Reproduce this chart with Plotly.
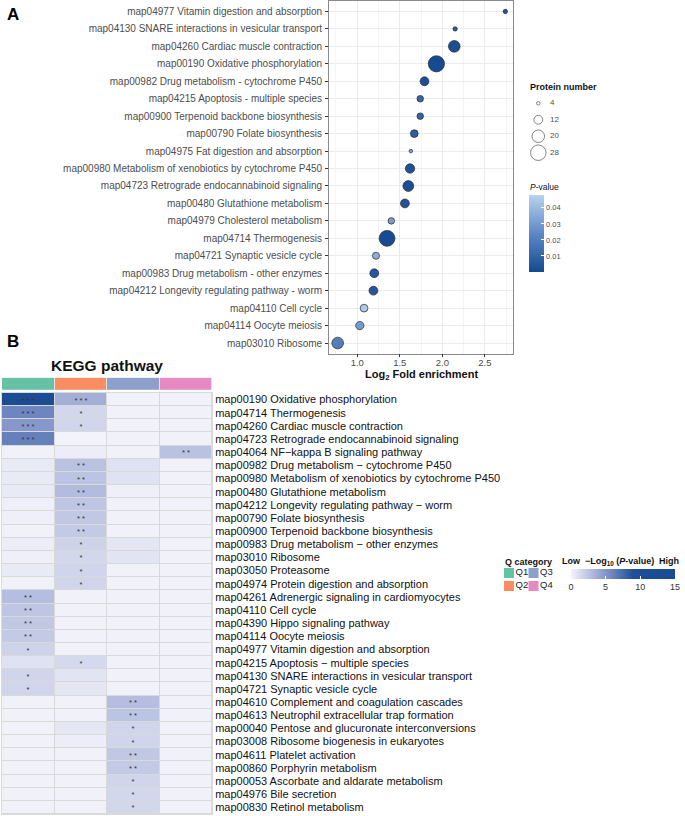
import numpy as np
import plotly.graph_objects as go

W, H = 685, 816
FONT = "Liberation Sans, Arial, Helvetica, sans-serif"

def fx(p):
    return p / W

def fy(p):
    return 1 - p / H

# ---------------- Panel A data ----------------
pathways_a = [
    "map04977 Vitamin digestion and absorption",
    "map04130 SNARE interactions in vesicular transport",
    "map04260 Cardiac muscle contraction",
    "map00190 Oxidative phosphorylation",
    "map00982 Drug metabolism - cytochrome P450",
    "map04215 Apoptosis - multiple species",
    "map00900 Terpenoid backbone biosynthesis",
    "map00790 Folate biosynthesis",
    "map04975 Fat digestion and absorption",
    "map00980 Metabolism of xenobiotics by cytochrome P450",
    "map04723 Retrograde endocannabinoid signaling",
    "map00480 Glutathione metabolism",
    "map04979 Cholesterol metabolism",
    "map04714 Thermogenesis",
    "map04721 Synaptic vesicle cycle",
    "map00983 Drug metabolism - other enzymes",
    "map04212 Longevity regulating pathway - worm",
    "map04110 Cell cycle",
    "map04114 Oocyte meiosis",
    "map03010 Ribosome",
]
fold_a = [2.74, 2.15, 2.14, 1.93, 1.79, 1.74, 1.74, 1.67, 1.63, 1.62,
          1.60, 1.56, 1.40, 1.35, 1.22, 1.20, 1.19, 1.08, 1.03, 0.77]
count_a = [5, 5, 18, 30, 12, 8, 8, 10, 4, 13,
           16, 12, 8, 29, 9, 12, 12, 10, 11, 18]
pval_a = [0.004, 0.007, 0.002, 0.0002, 0.002, 0.011, 0.010, 0.008, 0.032, 0.003,
          0.002, 0.004, 0.031, 0.0005, 0.036, 0.005, 0.005, 0.045, 0.030, 0.020]
size_legend = [4, 12, 20, 28]
pval_ticks = [0.01, 0.02, 0.03, 0.04]

# ---------------- Panel B data ----------------
pathways_b = [
    "map00190 Oxidative phosphorylation",
    "map04714 Thermogenesis",
    "map04260 Cardiac muscle contraction",
    "map04723 Retrograde endocannabinoid signaling",
    "map04064 NF\u2212kappa B signaling pathway",
    "map00982 Drug metabolism \u2212 cytochrome P450",
    "map00980 Metabolism of xenobiotics by cytochrome P450",
    "map00480 Glutathione metabolism",
    "map04212 Longevity regulating pathway \u2212 worm",
    "map00790 Folate biosynthesis",
    "map00900 Terpenoid backbone biosynthesis",
    "map00983 Drug metabolism \u2212 other enzymes",
    "map03010 Ribosome",
    "map03050 Proteasome",
    "map04974 Protein digestion and absorption",
    "map04261 Adrenergic signaling in cardiomyocytes",
    "map04110 Cell cycle",
    "map04390 Hippo signaling pathway",
    "map04114 Oocyte meiosis",
    "map04977 Vitamin digestion and absorption",
    "map04215 Apoptosis \u2212 multiple species",
    "map04130 SNARE interactions in vesicular transport",
    "map04721 Synaptic vesicle cycle",
    "map04610 Complement and coagulation cascades",
    "map04613 Neutrophil extracellular trap formation",
    "map00040 Pentose and glucuronate interconversions",
    "map03008 Ribosome biogenesis in eukaryotes",
    "map04611 Platelet activation",
    "map00860 Porphyrin metabolism",
    "map00053 Ascorbate and aldarate metabolism",
    "map04976 Bile secretion",
    "map00830 Retinol metabolism",
]
q_categories = ["Q1", "Q2", "Q3", "Q4"]
q_colors = ["#66C2A5", "#FC8D62", "#8DA0CB", "#E78AC3"]

# -log10(P-value) per Q category
q1_logp = [13.0, 5.9, 4.9, 6.2, 0.1, 0.5, 0.5, 0.5, 0.2, 0.2, 0.1, 0.3, 0.2, 0.5, 0.1, 2.8,
           2.4, 2.3, 2.2, 1.7, 0.9, 1.6, 1.6, 0.1, 0.1, 0.1, 0.1, 0.1, 0.1, 0.1, 0.1, 0.1]
q2_logp = [3.6, 1.5, 1.6, 0.0, 0.3, 2.6, 2.5, 2.9, 2.4, 2.3, 2.2, 1.7, 1.5, 1.6, 1.6, 0.1,
           0.1, 0.1, 0.1, 0.1, 1.4, 0.8, 0.7, 0.1, 0.1, 0.7, 0.3, 0.1, 0.1, 0.1, 0.1, 0.1]
q3_logp = [0.1, 0.1, 0.1, 0.1, 0.1, 0.9, 0.9, 0.2, 0.1, 0.1, 0.1, 0.7, 0.8, 0.1, 0.1, 0.1,
           0.1, 0.1, 0.1, 0.1, 0.1, 0.1, 0.1, 2.8, 2.5, 1.6, 1.6, 2.3, 2.2, 1.6, 1.5, 1.5]
q4_logp = [0.1, 0.1, 0.1, 0.1, 2.6, 0.1, 0.1, 0.1, 0.1, 0.1, 0.1, 0.1, 0.1, 0.1, 0.1, 0.1,
           0.1, 0.1, 0.1, 0.1, 0.1, 0.1, 0.1, 0.1, 0.1, 0.1, 0.1, 0.1, 0.1, 0.1, 0.1, 0.1]
# number of significance stars per Q category
q1_stars = [3, 3, 3, 3, 0, 0, 0, 0, 0, 0, 0, 0, 0, 0, 0, 2,
            2, 2, 2, 1, 0, 1, 1, 0, 0, 0, 0, 0, 0, 0, 0, 0]
q2_stars = [3, 1, 1, 0, 0, 2, 2, 2, 2, 2, 2, 1, 1, 1, 1, 0,
            0, 0, 0, 0, 1, 0, 0, 0, 0, 0, 0, 0, 0, 0, 0, 0]
q3_stars = [0, 0, 0, 0, 0, 0, 0, 0, 0, 0, 0, 0, 0, 0, 0, 0,
            0, 0, 0, 0, 0, 0, 0, 2, 2, 1, 1, 2, 2, 1, 1, 1]
q4_stars = [0, 0, 0, 0, 2, 0, 0, 0, 0, 0, 0, 0, 0, 0, 0, 0,
            0, 0, 0, 0, 0, 0, 0, 0, 0, 0, 0, 0, 0, 0, 0, 0]
logp_ticks = [0, 5, 10, 15]

# ---------------- build figure ----------------
def diam(n):
    return 3.5 + 3.65 * (np.sqrt(np.asarray(n, dtype=float)) - 2)

fig = go.Figure()

# Panel A bubbles
fig.add_trace(go.Scatter(
    x=fold_a, y=pathways_a, mode="markers",
    marker=dict(size=diam(count_a), color=pval_a, coloraxis="coloraxis",
                line=dict(color="#2a2a2a", width=0.7), opacity=1),
    xaxis="x", yaxis="y", showlegend=False, hoverinfo="skip"))

# Size legend
fig.add_trace(go.Scatter(
    x=[0] * len(size_legend), y=list(range(len(size_legend))), mode="markers",
    marker=dict(size=diam(size_legend), color="white", line=dict(color="#222", width=0.8)),
    xaxis="x3", yaxis="y3", showlegend=False, hoverinfo="skip", cliponaxis=False))
fig.add_trace(go.Scatter(
    x=[1] * len(size_legend), y=list(range(len(size_legend))), mode="text",
    text=[str(s) for s in size_legend], textposition="middle right",
    textfont=dict(size=8, color="#4D4D4D", family=FONT),
    xaxis="x3", yaxis="y3", showlegend=False, hoverinfo="skip", cliponaxis=False))

# Panel B heatmap
z = np.array([q1_logp, q2_logp, q3_logp, q4_logp]).T
stars = np.array([q1_stars, q2_stars, q3_stars, q4_stars]).T
star_text = [[" ".join(["*"] * int(s)) for s in row] for row in stars]
fig.add_trace(go.Heatmap(
    z=z, x=q_categories, y=pathways_b, text=star_text, texttemplate="%{text}",
    textfont=dict(size=7.5, color="#333333", family=FONT),
    coloraxis="coloraxis2", xgap=1, ygap=1, xaxis="x4", yaxis="y4", hoverinfo="skip"))

# header colour bar
disc = [[0, q_colors[0]], [1 / 6, q_colors[0]], [1 / 6, q_colors[1]], [0.5, q_colors[1]],
        [0.5, q_colors[2]], [5 / 6, q_colors[2]], [5 / 6, q_colors[3]], [1, q_colors[3]]]
fig.add_trace(go.Heatmap(
    z=[list(range(len(q_categories)))], x=q_categories, y=["Q"], colorscale=disc,
    zmin=0, zmax=3, showscale=False, xgap=1, xaxis="x5", yaxis="y5", hoverinfo="skip"))

# Q category legend (squares at column 0/1, labels just right of them)
leg_col = [0, 0, 1, 1]
leg_row = [0, 1, 0, 1]
fig.add_trace(go.Scatter(
    x=leg_col, y=leg_row, mode="markers",
    marker=dict(symbol="square", size=10, color=q_colors, line=dict(width=0)),
    xaxis="x6", yaxis="y6", showlegend=False, hoverinfo="skip", cliponaxis=False))
fig.add_trace(go.Scatter(
    x=[c + 0.27 for c in leg_col], y=leg_row, mode="text",
    text=q_categories, textposition="middle right",
    textfont=dict(size=9.5, color="#222", family=FONT),
    xaxis="x6", yaxis="y6", showlegend=False, hoverinfo="skip", cliponaxis=False))

# ---------------- layout ----------------
A_x0, A_x1, A_y0, A_y1 = 329, 513, 1, 353.5
B_x0, B_x1, B_y0, B_y1 = 2, 212, 393, 814
LEG_DX = 24.5  # px between legend columns

hidden = dict(visible=False, showgrid=False, zeroline=False, fixedrange=True)

fig.update_layout(
    width=W, height=H, margin=dict(l=0, r=0, t=0, b=0),
    paper_bgcolor="white", plot_bgcolor="white",
    font=dict(family=FONT, color="#222"),
    showlegend=False,
    xaxis=dict(domain=[fx(A_x0), fx(A_x1)], anchor="y", range=[0.668, 2.83],
               tickvals=[1.0, 1.5, 2.0, 2.5], ticktext=["1.0", "1.5", "2.0", "2.5"],
               ticks="outside", ticklen=3, tickcolor="#333", tickwidth=0.8,
               tickfont=dict(size=9.5, color="#4D4D4D"), ticklabelstandoff=-3,
               showgrid=True, gridcolor="#EBEBEB", gridwidth=1,
               minor=dict(dtick=0.25, tick0=0.75, showgrid=True, gridcolor="#F4F4F4", gridwidth=0.6),
               zeroline=False, showline=True, mirror=True, linecolor="#8A8A8A", linewidth=0.8),
    yaxis=dict(domain=[fy(A_y1), fy(A_y0)], anchor="x", type="category",
               categoryorder="array", categoryarray=pathways_a,
               range=[len(pathways_a) - 0.4, -0.6],
               ticks="outside", ticklen=3, tickcolor="#333", tickwidth=0.8,
               tickfont=dict(size=10, color="#4D4D4D"), ticklabelstandoff=1,
               showgrid=True, gridcolor="#EBEBEB", gridwidth=1,
               zeroline=False, showline=True, mirror=True, linecolor="#8A8A8A", linewidth=0.8),
    xaxis3=dict(domain=[fx(538.3), fx(550)], anchor="y3", range=[0, 1], **hidden),
    yaxis3=dict(domain=[fy(152.7), fy(103.3)], anchor="x3", range=[3, 0], **hidden),
    xaxis4=dict(domain=[fx(B_x0), fx(B_x1)], anchor="y4", type="category",
                categoryorder="array", categoryarray=q_categories,
                showticklabels=False, ticks="", showgrid=False, zeroline=False,
                showline=True, mirror=True, linecolor="#D9D9D9", linewidth=1),
    yaxis4=dict(domain=[fy(B_y1), fy(B_y0)], anchor="x4", type="category",
                categoryorder="array", categoryarray=pathways_b,
                range=[len(pathways_b) - 0.5, -0.5], side="right",
                ticks="", tickfont=dict(size=11, color="#111"), ticklabelstandoff=0,
                showgrid=False, zeroline=False,
                showline=True, mirror=True, linecolor="#D9D9D9", linewidth=1),
    xaxis5=dict(domain=[fx(B_x0), fx(B_x1)], anchor="y5", type="category",
                categoryorder="array", categoryarray=q_categories, **hidden),
    yaxis5=dict(domain=[fy(390), fy(377.7)], anchor="x5", **hidden),
    xaxis6=dict(domain=[fx(509 - 0.3 * LEG_DX), fx(509 + 1.8 * LEG_DX)], anchor="y6",
                range=[-0.3, 1.8], **hidden),
    yaxis6=dict(domain=[fy(586), fy(573)], anchor="x6", range=[1, 0], **hidden),
    coloraxis=dict(
        cmin=0.0, cmax=0.048,
        colorscale=[[0, "#154A91"], [0.5, "#5E88C5"], [1, "#B7D3EE"]],
        colorbar=dict(x=fx(529), xanchor="left", y=fy(195), yanchor="top",
                      len=77 / H, lenmode="fraction", thickness=15,
                      xpad=0, ypad=0, outlinewidth=0,
                      tickvals=pval_ticks, ticktext=[f"{v:.2f}" for v in pval_ticks],
                      ticks="inside", ticklen=3, tickcolor="white", tickwidth=1,
                      tickfont=dict(size=7.5, color="#4D4D4D"))),
    coloraxis2=dict(
        cmin=0, cmax=15,
        colorscale=[[0, "#F3F3FB"], [5 / 15, "#8595CA"], [9 / 15, "#1F4F97"], [1, "#1A4A93"]],
        colorbar=dict(orientation="h", x=fx(622.9), xanchor="center",
                      y=fy(569), yanchor="top", len=104.3 / W, lenmode="fraction",
                      thickness=10, xpad=0, ypad=0, outlinewidth=0,
                      tickvals=logp_ticks, ticks="inside", ticklen=3,
                      tickcolor="white", tickwidth=1,
                      tickfont=dict(size=9, color="#333"))),
    shapes=[dict(type="rect", xref="x4 domain", yref="y4 domain", x0=0, x1=1, y0=0, y1=1,
                 fillcolor="#D9D9D9", line=dict(width=0), layer="below"),
            dict(type="rect", xref="x5 domain", yref="y5 domain", x0=0, x1=1, y0=0, y1=1,
                 fillcolor="#E4E4E4", line=dict(width=0), layer="below")],
)

def ann(text, x, y, size, xanchor="left", bold=False, color="#111"):
    t = f"<b>{text}</b>" if bold else text
    return dict(text=t, x=fx(x), y=fy(y), xref="paper", yref="paper",
                xanchor=xanchor, yanchor="middle", showarrow=False,
                font=dict(size=size, color=color, family=FONT))

fig.update_layout(annotations=[
    ann("A", 5, 14, 17, bold=True, color="#000"),
    ann("B", 5, 341, 17, bold=True, color="#000"),
    ann("Log<sub>2</sub> Fold enrichment", 421, 375, 11, xanchor="center", bold=True),
    ann("Protein number", 528, 87, 9, bold=True),
    ann("<i>P</i>-value", 528, 187, 8.5),
    ann("KEGG pathway", 107, 366, 15.5, xanchor="center", bold=True),
    ann("Q category", 503, 562, 9, bold=True),
    ann("Low", 560, 561, 9, bold=True),
    ann("\u2212Log<sub>10</sub> (<i>P</i>-value)", 583, 561, 9, bold=True),
    ann("High", 657, 561, 9, bold=True),
])

fig.write_html(
    "out.html",
    config={"displayModeBar": False},
    post_script="document.body.style.margin='0';document.body.style.overflow='hidden';",
)
